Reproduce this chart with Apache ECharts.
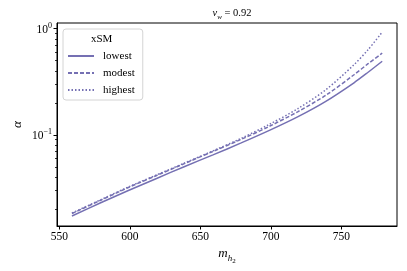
<!DOCTYPE html>
<html>
<head>
<meta charset="utf-8">
<script src="https://cdn.jsdelivr.net/npm/echarts@6/dist/echarts.min.js"></script>
<style>html,body{margin:0;padding:0;background:#fff}#c{width:407px;height:271px}</style>
</head>
<body>
<div id="c"></div>
<script>
var mh2 = [559, 579, 599, 619, 639, 659, 679, 699, 719, 739, 759, 769, 779];
var lowest = [0.01721, 0.02283, 0.02995, 0.03887, 0.05044, 0.06477, 0.08404, 0.1103, 0.1478, 0.2070, 0.3094, 0.3887, 0.4935];
var modest = [0.01817, 0.02411, 0.03197, 0.04148, 0.05384, 0.06988, 0.09068, 0.1203, 0.1648, 0.2358, 0.3681, 0.4676, 0.5873];
var highest = [0.01837, 0.02437, 0.03232, 0.04194, 0.05443, 0.07066, 0.09268, 0.1256, 0.1759, 0.2658, 0.4575, 0.6337, 0.9268];
var seriesNames = ['lowest', 'modest', 'highest'];
var xTicks = [550, 600, 650, 700, 750];
var yMajor = [0.1, 1];
var yMinor = [0.02, 0.03, 0.04, 0.05, 0.06, 0.07, 0.08, 0.09, 0.2, 0.3, 0.4, 0.5, 0.6, 0.7, 0.8, 0.9];

var FONT = '"Liberation Serif", "DejaVu Serif", serif';
var COLOR = '#7570b3';

function pairs(xs, ys) { return xs.map(function (x, i) { return [x, ys[i]]; }); }

var chart = echarts.init(document.getElementById('c'), null, { renderer: 'canvas' });
var yBase = {
  type: 'log', logBase: 10, min: 0.01387, max: 1.13,
  splitLine: { show: false }, minorTick: { show: false }
};
function lineSeries(name, ys, type) {
  return {
    name: name, type: 'line', data: pairs(mh2, ys), smooth: 0.3,
    symbol: 'none', yAxisIndex: 0,
    lineStyle: { color: COLOR, width: 1.5, type: type }, itemStyle: { color: COLOR }
  };
}
chart.setOption({
  animation: false,
  backgroundColor: '#fff',
  grid: { left: 57, right: 10, top: 23, bottom: 45, show: true, borderColor: '#000', borderWidth: 1, backgroundColor: 'transparent' },
  title: {
    text: '{i|v}{s|w}{n| = 0.92}',
    left: 227, top: 3, textAlign: 'center',
    textStyle: {
      fontWeight: 'normal',
      rich: {
        i: { fontFamily: FONT, fontStyle: 'italic', fontWeight: 'normal', fontSize: 10.5, color: '#000', verticalAlign: 'bottom', padding: [0, 0, 2, 0] },
        s: { fontFamily: FONT, fontStyle: 'italic', fontWeight: 'normal', fontSize: 7, color: '#000', verticalAlign: 'bottom' },
        n: { fontFamily: FONT, fontWeight: 'normal', fontSize: 10.5, color: '#000', verticalAlign: 'bottom', padding: [0, 0, 2, 0] }
      }
    }
  },
  legend: {
    orient: 'vertical', left: 63, top: 29,
    data: seriesNames,
    backgroundColor: 'rgba(255,255,255,0.8)', borderColor: '#d4d4d4', borderWidth: 1, borderRadius: 3,
    padding: [20, 8, 3, 4],
    itemWidth: 26, itemHeight: 10, itemGap: 3,
    itemStyle: { opacity: 0 },
    textStyle: { fontFamily: FONT, fontSize: 11, color: '#000', lineHeight: 14, padding: [0, 0, 0, 4] }
  },
  graphic: [{
    type: 'text', left: 91, top: 34, z: 100,
    style: { text: 'xSM', font: '11px ' + FONT, fill: '#000' }
  }],
  xAxis: {
    type: 'value', min: 548.4, max: 789.5,
    name: '{i|m}{s|h}{ss|2}', nameLocation: 'middle', nameGap: 21, nameMoveOverlap: false,
    nameTextStyle: {
      rich: {
        i: { fontFamily: FONT, fontStyle: 'italic', fontSize: 13, color: '#000', verticalAlign: 'bottom', padding: [0, 0, 5, 0] },
        s: { fontFamily: FONT, fontStyle: 'italic', fontSize: 9, color: '#000', verticalAlign: 'bottom', padding: [0, 0, 2, 0] },
        ss: { fontFamily: FONT, fontSize: 7, color: '#000', verticalAlign: 'bottom' }
      }
    },
    axisLine: { show: true, onZero: false, lineStyle: { color: '#000', width: 1 } },
    axisTick: { show: true, length: 3.5, lineStyle: { color: '#000', width: 1 }, customValues: xTicks },
    axisLabel: { customValues: xTicks, fontFamily: FONT, fontSize: 11.5, color: '#000', margin: 5 },
    splitLine: { show: false }
  },
  yAxis: [
    Object.assign({}, yBase, {
      name: 'α', nameLocation: 'middle', nameGap: 33, nameRotate: 90, nameMoveOverlap: false,
      nameTextStyle: { fontFamily: FONT, fontStyle: 'italic', fontSize: 13, color: '#000' },
      axisLine: { show: true, lineStyle: { color: '#000', width: 1 } },
      axisTick: { show: true, length: 3.5, lineStyle: { color: '#000', width: 1 }, customValues: yMajor },
      axisLabel: {
        customValues: yMajor, margin: 5,
        formatter: function (v) { var e = Math.round(Math.log10(v)); return '{b|10}{p|' + (e < 0 ? '−' + (-e) : e) + '}'; },
        rich: {
          b: { fontFamily: FONT, fontSize: 11.5, color: '#000', verticalAlign: 'bottom' },
          p: { fontFamily: FONT, fontSize: 8, color: '#000', verticalAlign: 'bottom', padding: [0, 0, 6, 0] }
        }
      }
    }),
    Object.assign({}, yBase, {
      position: 'left',
      axisLine: { show: false },
      axisTick: { show: true, length: 2, lineStyle: { color: '#000', width: 0.8 }, customValues: yMinor },
      axisLabel: { show: false }
    })
  ],
  series: [
    lineSeries('lowest', lowest, 'solid'),
    lineSeries('modest', modest, [4, 2]),
    lineSeries('highest', highest, [1.5, 2])
  ]
});
</script>
</body>
</html>
